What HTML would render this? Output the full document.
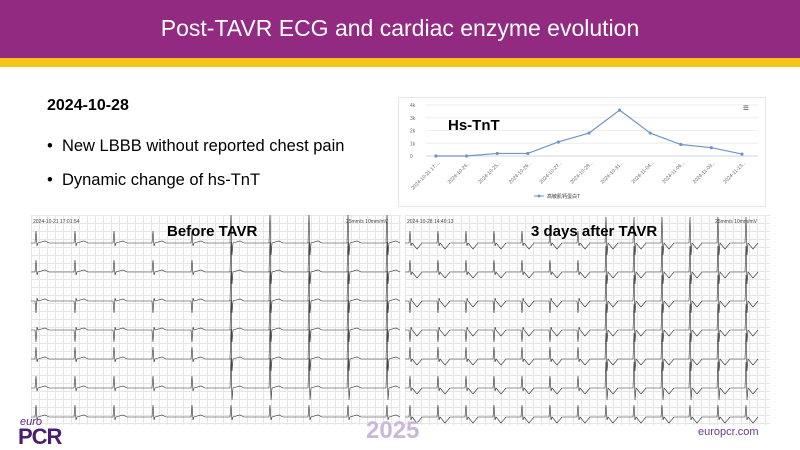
<!DOCTYPE html>
<html><head><meta charset="utf-8"><style>
body{margin:0;width:800px;height:450px;overflow:hidden;background:#fff;font-family:"Liberation Sans","Noto Sans CJK SC",sans-serif;position:relative}
.abs{position:absolute}
.ecg{background-color:#fcfcfc;background-image:linear-gradient(#e6e6e6 1px,transparent 1px),linear-gradient(90deg,#e6e6e6 1px,transparent 1px);background-size:8px 8px}
</style></head><body>
<div class="abs" style="left:0;top:0;width:800px;height:58px;background:#932a81"></div>
<div class="abs" style="left:0;top:58px;width:800px;height:9px;background:#f5c518"></div>
<div class="abs" style="left:0;top:15px;width:800px;text-align:center;color:#fff;font-size:23px">Post-TAVR ECG and cardiac enzyme evolution</div>
<div class="abs" style="left:47px;top:97px;font-size:16px;font-weight:bold">2024-10-28</div>
<div class="abs" style="left:47px;top:137px;font-size:16.5px">•&nbsp; New LBBB without reported chest pain</div>
<div class="abs" style="left:47px;top:171px;font-size:16.5px">•&nbsp; Dynamic change of hs-TnT</div>

<svg class="abs" style="left:398px;top:97px" width="368" height="110">
<rect x="0.5" y="0.5" width="367" height="109" fill="#fff" stroke="#e6e6e6"/>
<g id="grid"></g><g id="marks"></g>
<text x="50" y="33" font-size="15" font-weight="bold" font-family="Liberation Sans">Hs-TnT</text>
<text x="345" y="14" font-size="10" fill="#555">≡</text>
<line x1="136" y1="99" x2="146" y2="99" stroke="#7394c4"/>
<circle cx="141" cy="99" r="1.5" fill="#7394c4"/>
<text x="149" y="101" font-size="5" fill="#333">高敏肌钙蛋白T</text>
</svg>

<div class="abs ecg" style="left:31px;top:215px;width:370px;height:210px"><svg id="e1" width="370" height="210"></svg></div>
<div class="abs ecg" style="left:405px;top:215px;width:365px;height:210px"><svg id="e2" width="365" height="210"></svg></div>
<div class="abs" style="left:167px;top:223px;font-size:15px;font-weight:bold">Before TAVR</div>
<div class="abs" style="left:531px;top:223px;font-size:15px;font-weight:bold">3 days after TAVR</div>

<div class="abs" style="left:20px;top:416px;font-size:11px;font-style:italic;color:#5a2a7a">euro</div>
<div class="abs" style="left:18px;top:424px;font-size:22px;font-weight:bold;color:#4b1d6e;letter-spacing:-1px">PCR</div>
<div class="abs" style="left:366px;top:417px;font-size:24px;font-weight:bold;color:#cbb7d8">2025</div>
<div class="abs" style="left:698px;top:426px;font-size:11px;color:#6a3a8a">europcr.com</div>

<script>
const categories=["2024-10-21 17:...","2024-10-24...","2024-10-25...","2024-10-26...","2024-10-27...","2024-10-28...","2024-10-31...","2024-11-04...","2024-11-06...","2024-11-09...","2024-11-13..."];
const values=[0,0,200,200,1100,1800,3600,1800,900,650,150];
const yTicks=[0,1000,2000,3000,4000];
const yTickLabels=["0","1k","2k","3k","4k"];
const NS="http://www.w3.org/2000/svg";
function mk(t,a,p){const e=document.createElementNS(NS,t);for(const k in a)e.setAttribute(k,a[k]);p.appendChild(e);return e;}
const x0=38,x1=344,yTop=8,yBot=59,yMax=4000;
const xs=i=>x0+i*(x1-x0)/(categories.length-1);
const ys=v=>yBot-(v/yMax)*(yBot-yTop);
const g=document.getElementById('grid'),m=document.getElementById('marks');
yTicks.forEach((t,i)=>{
 const l=mk('line',{x1:28,x2:360,y1:ys(t),y2:ys(t),stroke:i?'#eee':'#ccd6eb'},g);
 
 
 const tx=mk('text',{x:12,y:ys(t)+2,'font-size':5,fill:'#666'},g);tx.textContent=yTickLabels[i];
 
 
});
categories.forEach((c,i)=>{
 const tx=mk('text',{x:xs(i)+4,y:66,'font-size':5,fill:'#666','text-anchor':'end',transform:`rotate(-45 ${xs(i)+4} 66)`},g);tx.textContent=c;
 
 
});
const line=mk('polyline',{points:values.map((v,i)=>xs(i)+','+ys(v)).join(' '),fill:'none',stroke:'#7394c4','stroke-width':1.2},m);


values.forEach((v,i)=>{const c=mk('circle',{cx:xs(i),cy:ys(v),r:1.6,fill:'#7394c4'},m);
 
 });

function ecg(id,w,wide){
 const s=document.getElementById(id);
 const t=mk('text',{x:2,y:8,'font-size':5,fill:'#444'},s);t.textContent=id=='e1'?'2024-10-21 17:01:54':'2024-10-28 14:40:13';
 const t2=mk('text',{x:w-55,y:8,'font-size':5,fill:'#444'},s);t2.textContent='25mm/s 10mm/mV';
 for(let r=0;r<7;r++){
  const yb=28+r*29;let d='M0 '+yb;
  const period=wide?28:39, half=w/2;
  for(let x=4;x<w;x+=period){
   const big=x>half&&r<6;
   const amp=big?(wide?26:30):12, dir=(r==2||r==3)&&!big?-1:1;
   d+=` L${x} ${yb} L${x+1} ${yb-dir*amp} L${x+2} ${yb+dir*(big?12:3)} L${x+3} ${yb}`;
   if(wide)d+=` L${x+8} ${yb+6} L${x+13} ${yb}`; else d+=` L${x+10} ${yb-2} L${x+14} ${yb}`;
  }
  const p=mk('path',{d:d,fill:'none',stroke:'#333','stroke-width':0.6},s);
  
  
 }
}
ecg('e1',370,false);ecg('e2',365,true);
</script>
</body></html>
